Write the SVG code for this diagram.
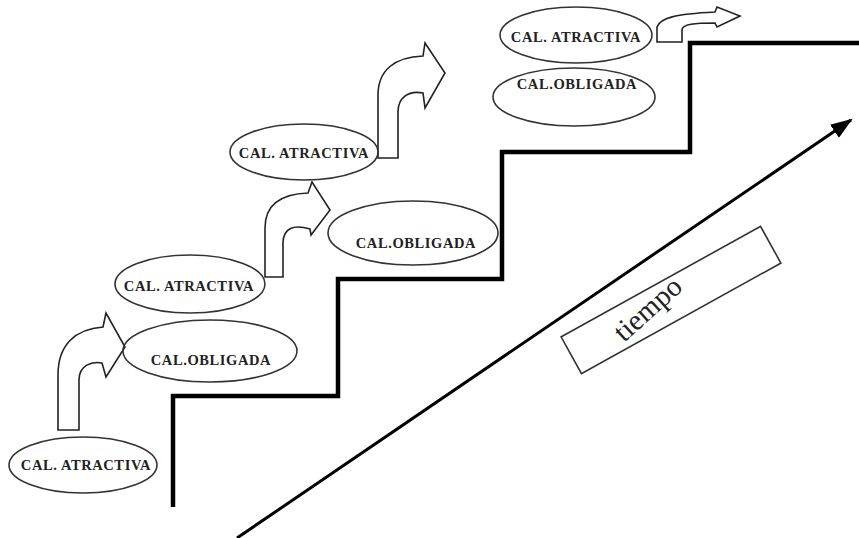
<svg xmlns="http://www.w3.org/2000/svg" width="859" height="538" viewBox="0 0 859 538">
<style>
.ell{fill:none;stroke:#333;stroke-width:1.6}
.lbl{font-family:"Liberation Serif","Times New Roman",serif;font-size:14.5px;font-weight:bold;fill:#222;text-anchor:middle;letter-spacing:0.6px}
.barrow{fill:#fff;stroke:#222;stroke-width:1.6;stroke-linejoin:miter}
.stair{fill:none;stroke:#000;stroke-width:4.5;stroke-linejoin:miter}
.time{fill:none;stroke:#000;stroke-width:3}
</style>
<defs>
<marker id="head" markerUnits="userSpaceOnUse" markerWidth="24" markerHeight="18" refX="20" refY="8" orient="auto">
<path d="M0,0 L22,8 L0,16 Z" fill="#000"/>
</marker>
</defs>
<rect width="859" height="538" fill="#fff"/>
<g id="staircase">
<path class="stair" d="M173,507 V396 H338 V279 H502 V152 H690 V43 H859"/>
</g>
<g id="connectors">
<path class="barrow" d="M58,430 L58,375 C58,345 75,329 103,327 L106,313 L125,347 L106,377 L102,363 C92,361 79,365 79,380 L79,430 Z"/>
<path class="barrow" d="M265,277 L265,228 C265,205 280,194 308,193 L312,182 L330,210 L311,235 L310,229 C294,224 283,228 283,243 L283,277 Z"/>
<path class="barrow" d="M378,158 L378,95 C378,70 395,57 423,56 L425,43 L445,73 L425,108 L423,93 C408,90 398,98 398,112 L398,158 Z"/>
<path class="barrow" d="M657,42 L657,27 C660,18 675,14 715,12 L717,7 L740,16 L717,27 L715,23 C695,23 682,24 682,30 L682,42 Z"/>
<line class="time" x1="237" y1="538" x2="851" y2="120" marker-end="url(#head)"/>
</g>
<g id="n1"><ellipse class="ell" cx="83" cy="465" rx="74" ry="28"/><text class="lbl" x="86" y="470">CAL. ATRACTIVA</text></g>
<g id="n2"><ellipse class="ell" cx="210" cy="351" rx="87" ry="31"/><text class="lbl" x="211" y="365">CAL.OBLIGADA</text></g>
<g id="n3"><ellipse class="ell" cx="190" cy="284" rx="75" ry="29"/><text class="lbl" x="189" y="291">CAL. ATRACTIVA</text></g>
<g id="n4"><ellipse class="ell" cx="304" cy="152" rx="74" ry="28"/><text class="lbl" x="304" y="158">CAL. ATRACTIVA</text></g>
<g id="n5"><ellipse class="ell" cx="413" cy="233" rx="85" ry="32"/><text class="lbl" x="416" y="248">CAL.OBLIGADA</text></g>
<g id="n6"><ellipse class="ell" cx="576" cy="35" rx="76" ry="28"/><text class="lbl" x="576" y="41.5">CAL. ATRACTIVA</text></g>
<g id="n7"><ellipse class="ell" cx="574" cy="97" rx="81" ry="29"/><text class="lbl" x="577" y="89">CAL.OBLIGADA</text></g>
<g id="tiempo">
<rect x="-114" y="-21" width="228" height="42" transform="translate(671,300) rotate(-29)" fill="none" stroke="#333" stroke-width="1.6"/>
<text x="0" y="0" transform="translate(654,316) rotate(-42)" font-family="Liberation Serif, Times New Roman, serif" font-size="29" fill="#222" text-anchor="middle">tiempo</text>
</g>
</svg>
